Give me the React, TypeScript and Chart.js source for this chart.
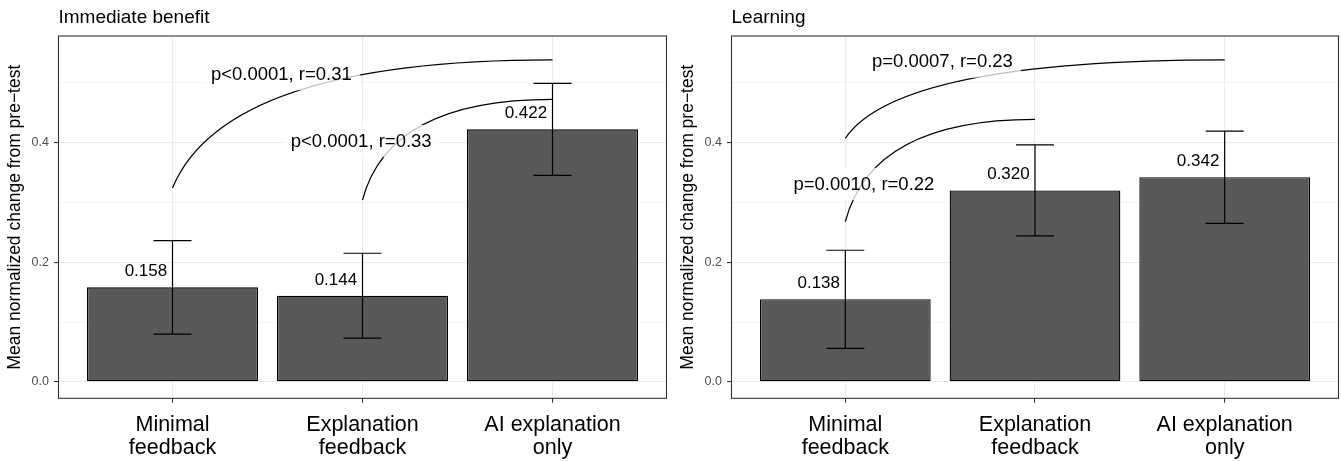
import React, { useEffect, useRef } from "react";
import { Chart, registerables } from "chart.js";

Chart.register(...registerables);

const FONT = "'Liberation Sans', Arial, Helvetica, sans-serif";

// ---- data ----
const categories: string[][] = [
  ["Minimal", "feedback"],
  ["Explanation", "feedback"],
  ["AI explanation", "only"],
];
const categoryPositions = [1, 2, 3];
const yTickValues = [0, 0.1, 0.2, 0.3, 0.4, 0.5];
const yMajorTicks = [0, 0.2, 0.4];
const yAxisTitle = "Mean normalized change from pre\u2212test";

const immediateTitle = "Immediate benefit";
const immediateMeans = [0.158, 0.144, 0.422];
const immediateErrors = [0.078, 0.071, 0.077];
const immediateTexts = ["p<0.0001, r=0.31", "p<0.0001, r=0.33"];
const immediateFromX = [1, 2];
const immediateFromY = [0.324, 0.304];
const immediateToX = [3, 3];
const immediateToY = [0.538, 0.472];
const immediateLabelX = [1.573, 1.993];
const immediateLabelY = [0.5156, 0.4042];

const learningTitle = "Learning";
const learningMeans = [0.138, 0.32, 0.342];
const learningErrors = [0.082, 0.076, 0.077];
const learningTexts = ["p=0.0007, r=0.23", "p=0.0010, r=0.22"];
const learningFromX = [1, 1];
const learningFromY = [0.407, 0.2676];
const learningToX = [3, 2];
const learningToY = [0.538, 0.4387];
const learningLabelX = [1.512, 1.098];
const learningLabelY = [0.5365, 0.3323];

// ---- drawing constants ----
const Y_MIN = -0.0274;
const Y_MAX = 0.578;
const CAP_WIDTH = 0.2;
const VALUE_SHIFT_X = -0.14;
const VALUE_LIFT_Y = 0.0285;
const CURVE_FRACTION = 0.14;

type Panel = {
  title: string;
  means: number[];
  errors: number[];
  texts: string[];
  fromX: number[];
  fromY: number[];
  toX: number[];
  toY: number[];
  labelX: number[];
  labelY: number[];
};

const immediatePanel: Panel = {
  title: immediateTitle,
  means: immediateMeans,
  errors: immediateErrors,
  texts: immediateTexts,
  fromX: immediateFromX,
  fromY: immediateFromY,
  toX: immediateToX,
  toY: immediateToY,
  labelX: immediateLabelX,
  labelY: immediateLabelY,
};

const learningPanel: Panel = {
  title: learningTitle,
  means: learningMeans,
  errors: learningErrors,
  texts: learningTexts,
  fromX: learningFromX,
  fromY: learningFromY,
  toX: learningToX,
  toY: learningToY,
  labelX: learningLabelX,
  labelY: learningLabelY,
};

function overlayPlugin(panel: Panel) {
  return {
    id: "overlay",
    afterDatasetsDraw(chart: any) {
      const { ctx } = chart;
      const x = chart.scales.x;
      const y = chart.scales.y;
      ctx.save();
      // error bars
      ctx.strokeStyle = "#000";
      ctx.lineWidth = 1.2;
      panel.means.forEach((m, i) => {
        const cx = x.getPixelForValue(categoryPositions[i]);
        const hw = x.getPixelForValue(categoryPositions[i] + CAP_WIDTH / 2) - cx;
        const top = y.getPixelForValue(m + panel.errors[i]);
        const bot = y.getPixelForValue(m - panel.errors[i]);
        ctx.beginPath();
        ctx.moveTo(cx, top);
        ctx.lineTo(cx, bot);
        ctx.moveTo(cx - hw, top);
        ctx.lineTo(cx + hw, top);
        ctx.moveTo(cx - hw, bot);
        ctx.lineTo(cx + hw, bot);
        ctx.stroke();
      });
      // value labels
      const vSize = 17;
      ctx.font = `${vSize}px ${FONT}`;
      ctx.fillStyle = "#000";
      ctx.textAlign = "center";
      ctx.textBaseline = "alphabetic";
      panel.means.forEach((m, i) => {
        const px = x.getPixelForValue(categoryPositions[i] + VALUE_SHIFT_X);
        const py = y.getPixelForValue(m + VALUE_LIFT_Y) + 0.358 * vSize;
        ctx.fillText(m.toFixed(3), px, py);
      });
      // curves
      ctx.lineWidth = 1.2;
      ctx.strokeStyle = "#000";
      panel.texts.forEach((_, i) => {
        const sx = x.getPixelForValue(panel.fromX[i]);
        const sy = y.getPixelForValue(panel.fromY[i]);
        const ex = x.getPixelForValue(panel.toX[i]);
        const ey = y.getPixelForValue(panel.toY[i]);
        ctx.beginPath();
        ctx.moveTo(sx, sy);
        ctx.quadraticCurveTo(sx + CURVE_FRACTION * (ex - sx), ey, ex, ey);
        ctx.stroke();
      });
      // p-value labels
      const pSize = 18.5;
      ctx.font = `${pSize}px ${FONT}`;
      panel.texts.forEach((t, i) => {
        const cx = x.getPixelForValue(panel.labelX[i]);
        const cy = y.getPixelForValue(panel.labelY[i]);
        const tw = ctx.measureText(t).width;
        const w = tw + 16;
        const h = 32;
        ctx.fillStyle = "rgba(255,255,255,0.75)";
        ctx.beginPath();
        if (ctx.roundRect) ctx.roundRect(cx - w / 2, cy - h / 2 + 1, w, h, 3);
        else ctx.rect(cx - w / 2, cy - h / 2 + 1, w, h);
        ctx.fill();
        ctx.fillStyle = "#000";
        ctx.fillText(t, cx, cy + 0.358 * pSize);
      });
      ctx.restore();
    },
    afterDraw(chart: any) {
      const { ctx, chartArea } = chart;
      ctx.save();
      ctx.strokeStyle = "#333333";
      ctx.lineWidth = 1.1;
      ctx.strokeRect(
        chartArea.left,
        chartArea.top,
        chartArea.right - chartArea.left,
        chartArea.bottom - chartArea.top
      );
      ctx.font = `19px ${FONT}`;
      ctx.fillStyle = "#000";
      ctx.textAlign = "left";
      ctx.textBaseline = "alphabetic";
      ctx.fillText(panel.title, chartArea.left, 23.3);
      ctx.restore();
    },
  };
}

function makeChart(canvas: HTMLCanvasElement, panel: Panel, padRight: number) {
  const isMajor = (v: number) => yMajorTicks.some((m) => Math.abs(m - v) < 1e-9);
  return new Chart(canvas, {
    type: "bar",
    data: {
      datasets: [
        {
          data: panel.means.map((m, i) => ({ x: categoryPositions[i], y: m })) as any,
          backgroundColor: "#595959",
          borderColor: "#000000",
          borderWidth: 1.3,
          borderSkipped: false,
          barPercentage: 0.9,
          categoryPercentage: 1,
        },
      ],
    },
    options: {
      responsive: false,
      maintainAspectRatio: false,
      animation: false,
      layout: { padding: { left: 0, right: padRight, top: 36, bottom: 0 } },
      plugins: {
        legend: { display: false },
        tooltip: { enabled: false },
        title: { display: false },
      },
      scales: {
        x: {
          type: "linear",
          min: 0.4,
          max: 3.6,
          offset: false,
          afterFit: (s: any) => {
            s.height = 62.7;
          },
          afterBuildTicks: (s: any) => {
            s.ticks = categoryPositions.map((v) => ({ value: v }));
          },
          ticks: {
            autoSkip: false,
            maxRotation: 0,
            minRotation: 0,
            padding: 10.5,
            color: "#000",
            font: { family: FONT, size: 21.5, lineHeight: 1.07 },
            callback: (v: any) => {
              const i = categoryPositions.indexOf(Number(v));
              return i >= 0 ? categories[i] : "";
            },
          },
          grid: {
            offset: false,
            color: "#EBEBEB",
            lineWidth: 1.07,
            tickLength: 4.5,
            tickColor: "#333333",
            tickWidth: 1.07,
          },
          border: { display: false },
        } as any,
        y: {
          type: "linear",
          min: Y_MIN,
          max: Y_MAX,
          afterFit: (s: any) => {
            s.width = 58.5;
          },
          afterBuildTicks: (s: any) => {
            s.ticks = yTickValues.map((v) => ({ value: v }));
          },
          ticks: {
            autoSkip: false,
            padding: 5,
            color: "#4D4D4D",
            font: { family: FONT, size: 12.5 },
            callback: (v: any) => (isMajor(Number(v)) ? Number(v).toFixed(1) : ""),
          },
          grid: {
            color: "#EBEBEB",
            lineWidth: (c: any) => (isMajor(c.tick ? c.tick.value : 0) ? 1.07 : 0.55),
            tickLength: 4.5,
            tickWidth: 1.07,
            tickColor: (c: any) =>
              isMajor(c.tick ? c.tick.value : 0) ? "#333333" : "rgba(0,0,0,0)",
          },
          border: { display: false },
          title: {
            display: true,
            text: yAxisTitle,
            color: "#000",
            font: { family: FONT, size: 17.5 },
            padding: { top: 5, bottom: 0 },
          },
        } as any,
      },
    } as any,
    plugins: [overlayPlugin(panel)],
  });
}

export default function App() {
  const leftRef = useRef<HTMLCanvasElement>(null);
  const rightRef = useRef<HTMLCanvasElement>(null);

  useEffect(() => {
    const c1 = makeChart(leftRef.current as HTMLCanvasElement, immediatePanel, 3.5);
    const c2 = makeChart(rightRef.current as HTMLCanvasElement, learningPanel, 2.5);
    return () => {
      c1.destroy();
      c2.destroy();
    };
  }, []);

  return (
    <div
      style={{
        position: "fixed",
        left: 0,
        top: 0,
        width: 1341,
        height: 461,
        background: "#fff",
        overflow: "hidden",
      }}
    >
      <canvas
        ref={leftRef}
        width={670}
        height={461}
        style={{ position: "absolute", left: 0, top: 0, width: 670, height: 461 }}
      />
      <canvas
        ref={rightRef}
        width={668}
        height={461}
        style={{ position: "absolute", left: 673, top: 0, width: 668, height: 461 }}
      />
    </div>
  );
}
